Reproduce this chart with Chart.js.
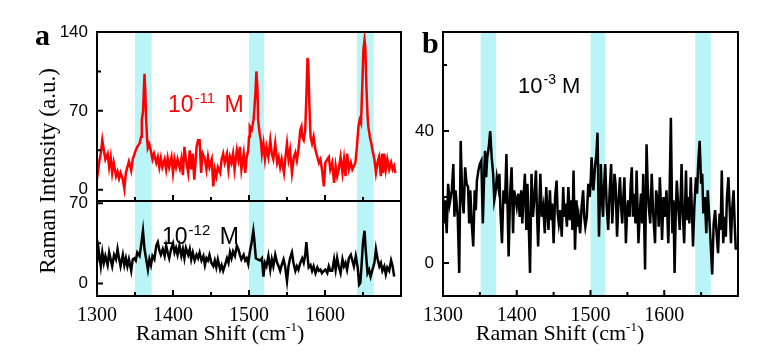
<!DOCTYPE html>
<html>
<head>
<meta charset="utf-8">
<script src="https://cdn.jsdelivr.net/npm/chart.js@4.4.1/dist/chart.umd.min.js"></script>
<style>
    html, body { margin: 0; padding: 0; background: #fff; }
    #wrap { position: relative; width: 775px; height: 352px; overflow: hidden; }
    #wrap canvas { position: absolute; left: 0; top: 0; }
    .lbl { position: absolute; white-space: nowrap; line-height: 1; z-index: 5; }
    .serif { font-family: 'Liberation Serif', 'Times New Roman', serif; }
    .sans { font-family: 'Liberation Sans', Arial, sans-serif; }
    .sup { position: relative; font-size: 15px; top: -9px; margin-left: 1px; margin-right: 3px; }
    .supb { position: relative; font-size: 14px; top: -9px; margin-left: 1px; }
    .xsup { position: relative; font-size: 13px; top: -9px; }
</style>
</head>
<body>
<div id="wrap">
    <canvas id="chartA11" width="775" height="352"></canvas>
    <canvas id="chartA12" width="775" height="352"></canvas>
    <canvas id="chartB" width="775" height="352"></canvas>

    <div class="lbl serif" style="left:35px; top:20px; font-size:30px; font-weight:bold;">a</div>
    <div class="lbl serif" style="left:422px; top:28px; font-size:30px; font-weight:bold;">b</div>

    <div class="lbl sans" style="left:168px; top:93px; font-size:23px; color:#ff0000;">10<span class="sup">-11</span> M</div>
    <div class="lbl sans" style="left:162px; top:225px; font-size:23px; color:#000;">10<span class="sup">-12</span> M</div>
    <div class="lbl sans" style="left:518px; top:75px; font-size:22px; color:#000;">10<span class="supb">-3</span> M</div>

    <div class="lbl serif" style="left:47px; top:171px; font-size:23px; transform:translate(-50%,-50%) rotate(-90deg);">Raman Intensity (a.u.)</div>
    <div class="lbl serif" style="left:220px; top:322px; font-size:22px; transform:translateX(-50%);">Raman Shift (cm<span class="xsup">-1</span>)</div>
    <div class="lbl serif" style="left:560px; top:322px; font-size:22px; transform:translateX(-50%);">Raman Shift (cm<span class="xsup">-1</span>)</div>
</div>
<script>
// ---- data ----
const xTickLabels = [1300, 1400, 1500, 1600];
const xMinorTicks = [1350, 1450, 1550, 1650];

const bandsA = [[1350, 1372], [1500, 1520], [1642, 1664]];
const bandsB = [[1351, 1372], [1500, 1520], [1642, 1663]];

// panel a, top: 10^-11 M (red)
const shift11 = [1300, 1303, 1305, 1307, 1309, 1311, 1314, 1316, 1318, 1320, 1322, 1325, 1327, 1329, 1331, 1334, 1336, 1338, 1340, 1342,
    1345, 1347, 1349, 1351, 1353, 1356, 1358, 1359, 1360.5, 1361.5, 1362.5, 1363.5, 1364.5, 1366, 1367, 1369, 1371, 1373, 1375, 1378,
    1380, 1382, 1384, 1386, 1389, 1391, 1393, 1395, 1398, 1400, 1402, 1404, 1406, 1409, 1411, 1413, 1415, 1417, 1420, 1422,
    1424, 1426, 1428, 1431, 1433, 1435, 1437, 1439, 1442, 1444, 1446, 1448, 1451, 1453, 1455, 1457, 1459, 1462, 1464, 1466,
    1468, 1471, 1473, 1475, 1477, 1479, 1481, 1484, 1486, 1488, 1490, 1493, 1495, 1497, 1499, 1500, 1501, 1503.5, 1506, 1507,
    1508.5, 1509.7, 1511, 1512, 1514, 1515.5, 1517, 1519, 1521, 1523, 1525.5, 1528, 1530, 1532, 1534.5, 1537, 1539, 1541, 1543, 1546,
    1548, 1550, 1552, 1554, 1556.5, 1559, 1561, 1563, 1565, 1567.5, 1569, 1570, 1572, 1574, 1575.5, 1577, 1578, 1579.5, 1581, 1583,
    1585, 1587.5, 1590, 1592, 1594, 1596, 1598.5, 1600.5, 1603, 1605, 1607, 1609.5, 1612, 1614, 1616, 1618, 1620.5, 1623, 1625, 1627,
    1629, 1631.5, 1634, 1636, 1638, 1640, 1642, 1644, 1645.7, 1647.4, 1649, 1650.5, 1652, 1653, 1654.5, 1656, 1657, 1659, 1661, 1662.5,
    1665, 1667, 1669, 1671, 1673.5, 1675, 1676.5, 1678, 1680, 1682, 1684.5, 1687, 1689, 1691, 1692.5];
const int11 = [10, 25, 32, 44, 35, 27, 32, 20, 29, 15, 24, 12, 16, 10, 15, 9, 1, 15, 20, 25,
    17, 27, 31, 35, 38, 41, 47, 62, 69, 86, 103, 89, 65, 44, 37, 40, 34, 27, 32, 24,
    29, 20, 28, 20, 27, 18, 28, 20, 29, 15, 27, 20, 27, 19, 27, 13, 38, 27, 15, 35,
    18, 32, 9, 38, 44, 44, 15, 32, 27, 18, 29, 20, 27, 3, 18, 12, 20, 15, 27, 32,
    24, 32, 18, 29, 24, 32, 18, 35, 27, 38, 18, 32, 15, 29, 35, 47, 56, 53, 62, 71,
    86, 105, 92, 62, 50, 44, 32, 41, 27, 38, 29, 44, 32, 27, 41, 24, 29, 20, 27, 15,
    29, 41, 27, 35, 15, 29, 33, 26, 35, 53, 56, 47, 44, 53, 83, 117, 112, 74, 47, 41,
    47, 35, 29, 24, 27, 18, 3, 24, 27, 29, 18, 24, 6, 21, 12, 18, 29, 15, 27, 12,
    32, 18, 24, 18, 21, 24, 38, 56, 62, 59, 91, 124, 133, 127, 91, 65, 56, 47, 41, 35,
    27, 15, 24, 29, 12, 32, 15, 32, 18, 27, 18, 24, 18, 21, 15];

// panel a, bottom: 10^-12 M (black)
const shift12 = [1300, 1302, 1305, 1307, 1309, 1311, 1314, 1316, 1318, 1320, 1322.5, 1325, 1327, 1329, 1331, 1334, 1336, 1338, 1340, 1342,
    1345, 1347, 1349, 1351, 1353, 1356, 1358, 1360.5, 1361.5, 1362.5, 1364.5, 1367, 1369, 1371, 1373, 1375.5, 1378, 1380, 1382, 1384,
    1386.5, 1389, 1391, 1393, 1395, 1397.5, 1400, 1402, 1404, 1406, 1408.5, 1411, 1413, 1415, 1417, 1420, 1422, 1424, 1426, 1428.5,
    1431, 1433, 1435, 1437.5, 1440, 1442, 1444, 1446, 1448, 1450.5, 1453, 1455, 1457, 1459, 1462, 1464, 1466, 1468, 1471, 1473,
    1475, 1477, 1479, 1481.5, 1484, 1486, 1488, 1490, 1493, 1495, 1497, 1499, 1501, 1503.5, 1505.7, 1507, 1509, 1511.5, 1514.5, 1517,
    1519, 1521, 1523, 1525.5, 1528, 1530, 1532, 1534.5, 1537, 1539, 1541, 1543, 1545.5, 1547.5, 1550, 1552, 1554, 1556.5, 1558.5, 1561,
    1563, 1565, 1567.5, 1570, 1572, 1574, 1575.5, 1577, 1578.5, 1581, 1583, 1585, 1587.5, 1590, 1592, 1594, 1596, 1598.5, 1600.5, 1603,
    1605, 1607, 1609.5, 1612, 1614, 1616, 1618, 1620.5, 1623, 1625, 1627, 1629, 1631.5, 1634, 1636, 1638, 1640.5, 1643, 1645, 1646.5,
    1648, 1650, 1652, 1653.5, 1656, 1658, 1660, 1662.5, 1665, 1667, 1669, 1671.5, 1673.5, 1675.5, 1678, 1680, 1682, 1684.5, 1687, 1689,
    1691];
const int12 = [18, 30, 15, 27, 18, 24, 16, 27, 21, 15, 25, 21, 30, 22, 15, 25, 16, 22, 15, 21,
    11, 21, 22, 20, 27, 24, 33, 46, 38, 30, 22, 12, 21, 16, 24, 21, 33, 36, 29, 25,
    30, 24, 33, 27, 22, 30, 35, 27, 31, 25, 33, 24, 30, 22, 31, 25, 30, 21, 27, 20,
    25, 22, 27, 20, 24, 16, 22, 20, 25, 18, 15, 20, 14, 21, 12, 16, 11, 15, 22, 18,
    27, 22, 28, 24, 33, 30, 25, 21, 25, 20, 22, 17, 27, 36, 46, 38, 22, 21, 20, 22,
    6, 18, 15, 24, 12, 21, 15, 25, 18, 15, 11, 16, 21, 15, 2, 15, 22, 27, 18, 11,
    15, 12, 18, 22, 18, 25, 36, 24, 14, 16, 11, 15, 9, 14, 11, 12, 9, 11, 12, 9,
    15, 11, 11, 21, 12, 22, 15, 9, 21, 15, 18, 12, 22, 25, 20, 15, 24, 14, -1, 0.5,
    15, 36, 46, 30, 9, 12, 6, 12, 18, 30, 22, 15, 18, 11, 15, 8, 14, 11, 20, 15,
    6];

// panel b: 10^-3 M (black)
const shiftB = [1300, 1301.5, 1303, 1305, 1307, 1309, 1312, 1314, 1315.5, 1317, 1320, 1322, 1324, 1326, 1328, 1330, 1332, 1334, 1335.5, 1337,
    1339, 1341, 1343, 1344.5, 1346, 1348, 1350, 1352, 1354, 1356, 1357, 1358.5, 1360, 1362, 1364, 1366, 1368, 1369.5, 1371, 1373,
    1375, 1376.5, 1378, 1380, 1382, 1384, 1386, 1389, 1391, 1393, 1395, 1396.5, 1398, 1400, 1402, 1404, 1406, 1407.5, 1409, 1411,
    1413, 1414.5, 1416, 1418, 1420, 1422, 1424, 1426, 1427.5, 1429, 1432, 1434, 1436, 1438, 1440, 1441.5, 1443, 1445, 1446.5, 1448,
    1450, 1452, 1454, 1455.5, 1457, 1459, 1461, 1463, 1464.5, 1466, 1468, 1470, 1472, 1474, 1475.5, 1477, 1479, 1481, 1482.5, 1484,
    1486, 1488, 1490, 1491.5, 1493, 1495, 1497, 1499, 1500.5, 1501.5, 1503, 1504, 1506, 1508, 1509.5, 1511.5, 1513, 1514, 1515.5, 1517,
    1518.5, 1520, 1522, 1524, 1526, 1528, 1529.5, 1531, 1532.5, 1534, 1536, 1538, 1540, 1541.5, 1543, 1544.5, 1546, 1548, 1549.5, 1551,
    1553, 1554.5, 1556, 1557.5, 1559, 1561, 1562.5, 1565, 1567, 1568.5, 1570, 1571.5, 1574, 1576, 1577.5, 1579, 1581, 1583, 1585, 1587.5,
    1589, 1591, 1592.5, 1594, 1595.5, 1597, 1599, 1601, 1603, 1605.5, 1607, 1609, 1611, 1612.5, 1614, 1615.5, 1617, 1619, 1621, 1623.5,
    1625, 1627, 1629.5, 1631, 1632.5, 1634, 1636, 1637.5, 1639, 1641, 1643, 1644.5, 1646, 1648, 1650, 1651.5, 1653, 1655, 1657, 1659,
    1660.5, 1662, 1665, 1667, 1669, 1671, 1673, 1675, 1676.5, 1678, 1680, 1682, 1683.5, 1685, 1687, 1689, 1690.5, 1692, 1694, 1695.5,
    1697];
const intB = [20, 12, 19, 9, 24, 18, 22, 30, 14, 22, 14, -3, 37, 20, 15, 29, 24, 23, 12, 22,
    12, 5, 22, 16, 25, 28, 30, 31, 12, 28, 34, 26, 32, 35, 40, 32, 27, 19, 21, 26,
    23, 27, 15, 6, 22, 18, 33, 2, 21, 29, 9, 22, 20, 17, 21, 14, 22, 12, 19, 27,
    10, 24, 14, -3, 27, 14, 20, 28, 15, 5, 27, 14, 17, 9, 23, 16, 10, 22, 13, 18,
    6, 20, 25, 15, 12, 16, 8, 23, 14, 18, 11, 23, 13, 19, 10, 28, 4, 19, 11, 14,
    9, 17, 22, 14, 11, 14, 24, 20, 26, 32, 24, 22, 29, 33, 39.5, 8, 22, 30, 19, 14,
    24, 30, 17, 10, 22, 30, 12, 19, 27, 24, 8, 19, 26, 17, 12, 20, 26, 6, 15, 19,
    14, 24, 29, 14, 21, 12, 28, 6, 16, 21, 12, 27, -2, 36, 24, 17, 12, 27, 15, 6,
    22, 19, 11, 26, 18, 7, 20, 14, 22, 6, 18, 44, 9, 19, -3, 14, 25, 17, 10, 30,
    16, 6, 28, 13, 20, 12, 26, 16, 5, 18, 26, 21, 30, 37, 24, 27, 15, 20, 9, 22,
    16, 10, -3.5, 12, 16, 9, 3, 15, 10, 28, 6, 14, 8, 20, 26, 15, 6, 16, 22, 12,
    4];

const yTicksA11 = [0, 70, 140];
const yMinorA11 = [35, 105];
const yTicksA12 = [0, 70];
const yMinorA12 = [35];
const yTicksB = [0, 40];
const yMinorB = [20, 60];

const bandColor = '#b9f5f7';

// draws shaded bands behind the data, then the box and inward ticks
const framePlugin = {
    id: 'frame',
    beforeDatasetsDraw(chart, args, opts) {
        const ctx = chart.ctx;
        const a = chart.chartArea;
        const x = chart.scales.x;
        ctx.save();
        ctx.fillStyle = bandColor;
        (opts.bands || []).forEach(b => {
            const x0 = x.getPixelForValue(b[0]);
            const x1 = x.getPixelForValue(b[1]);
            ctx.fillRect(x0, a.top, x1 - x0, a.bottom - a.top);
        });
        ctx.restore();
    },
    afterDraw(chart, args, opts) {
        const ctx = chart.ctx;
        const a = chart.chartArea;
        const x = chart.scales.x;
        const y = chart.scales.y;
        ctx.save();
        ctx.strokeStyle = '#000';
        ctx.lineWidth = 2;
        ctx.beginPath();
        (opts.xMajor || []).forEach(v => {
            const p = x.getPixelForValue(v);
            ctx.moveTo(p, a.bottom); ctx.lineTo(p, a.bottom - 6);
        });
        (opts.xMinor || []).forEach(v => {
            const p = x.getPixelForValue(v);
            ctx.moveTo(p, a.bottom); ctx.lineTo(p, a.bottom - 4);
        });
        (opts.yMajor || []).forEach(v => {
            const p = y.getPixelForValue(v);
            ctx.moveTo(a.left, p); ctx.lineTo(a.left + 6, p);
        });
        (opts.yMinor || []).forEach(v => {
            const p = y.getPixelForValue(v);
            ctx.moveTo(a.left, p); ctx.lineTo(a.left + 4, p);
        });
        ctx.stroke();
        ctx.strokeRect(a.left, a.top, a.right - a.left, a.bottom - a.top);
        ctx.restore();
    }
};

function toPoints(xs, ys) {
    return xs.map((v, i) => ({ x: v, y: ys[i] }));
}

function yAxis(min, max, ticks) {
    return {
        min: min,
        max: max,
        afterFit: s => { s.width = 40; },
        afterBuildTicks: s => { s.ticks = ticks.map(v => ({ value: v })); },
        grid: { display: false, drawTicks: false },
        border: { display: false },
        ticks: {
            padding: 9,
            color: '#000',
            font: { family: "'Liberation Sans', Arial, sans-serif", size: 17 },
            callback: v => String(v)
        }
    };
}

function xAxis(show) {
    return {
        type: 'linear',
        min: 1300,
        max: 1700,
        display: show,
        afterFit: s => { s.height = show ? 30 : 0; },
        afterBuildTicks: s => { s.ticks = xTickLabels.map(v => ({ value: v })); },
        grid: { display: false, drawTicks: false },
        border: { display: false },
        ticks: {
            autoSkip: false,
            maxRotation: 0,
            padding: 8,
            color: '#000',
            font: { family: "'Liberation Serif', 'Times New Roman', serif", size: 20 },
            callback: v => String(v)
        }
    };
}

function makeChart(id, xs, ys, color, lineWidth, padding, xShow, yOpts, frameOpts) {
    return new Chart(document.getElementById(id), {
        type: 'line',
        data: {
            datasets: [{
                data: toPoints(xs, ys),
                borderColor: color,
                borderWidth: lineWidth,
                pointRadius: 0,
                tension: 0,
                fill: false
            }]
        },
        options: {
            responsive: false,
            animation: false,
            devicePixelRatio: 1,
            layout: { padding: padding },
            plugins: {
                legend: { display: false },
                tooltip: { enabled: false },
                frame: frameOpts
            },
            scales: {
                x: xAxis(xShow),
                y: yOpts
            }
        },
        plugins: [framePlugin]
    });
}

makeChart('chartA11', shift11, int11, '#ff0000', 2.5,
    { left: 57, top: 32, right: 374, bottom: 151 }, false,
    yAxis(-10, 140, yTicksA11),
    { bands: bandsA, xMajor: xTickLabels, xMinor: xMinorTicks, yMajor: yTicksA11, yMinor: yMinorA11 });

makeChart('chartA12', shift12, int12, '#000000', 2.5,
    { left: 57, top: 201, right: 374, bottom: 26 }, true,
    yAxis(-11, 72, yTicksA12),
    { bands: bandsA, xMajor: xTickLabels, xMinor: xMinorTicks, yMajor: yTicksA12, yMinor: yMinorA12 });

makeChart('chartB', shiftB, intB, '#000000', 2.5,
    { left: 403, top: 32, right: 37, bottom: 26 }, true,
    yAxis(-10, 70, yTicksB),
    { bands: bandsB, xMajor: xTickLabels, xMinor: xMinorTicks, yMajor: yTicksB, yMinor: yMinorB });
</script>
</body>
</html>
